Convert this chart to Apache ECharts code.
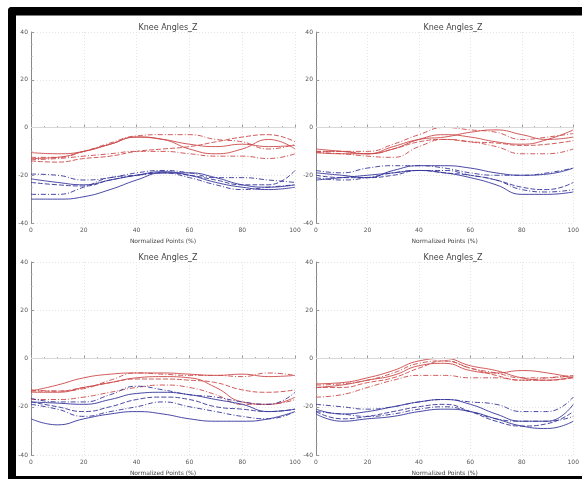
<!DOCTYPE html>
<html><head><meta charset="utf-8">
<script src="https://cdn.jsdelivr.net/npm/echarts@6/dist/echarts.min.js"></script>
<style>html,body{margin:0;padding:0;background:#fff}#c{width:582px;height:479px}</style>
</head><body><div id="c"></div>
<script>
const xPoints = [0,10,20,30,40,50,60,70,80,90,100];
const titles = ["Knee Angles_Z","Knee Angles_Z","Knee Angles_Z","Knee Angles_Z"];
const xName = "Normalized Points (%)";
const yTicks = [-40,-20,0,20,40];

const red1 = [
 [-10.5,-11,-10,-7,-4,-5,-7,-8,-7,-8,-7.5],
 [-12.5,-12.5,-10,-6.5,-3.5,-3,-3,-5,-6,-9,-7],
 [-13,-12.5,-10,-7,-4,-5,-9,-11,-9,-5,-9],
 [-14,-14.5,-13,-12,-10,-9,-8,-6,-4,-3,-6],
 [-13.5,-13,-12,-11,-10,-10,-11,-12,-12,-13,-11]
];
const blue1 = [
 [-19.5,-20,-22,-21,-19,-18,-19,-21,-21,-22,-23],
 [-21.5,-23,-24,-22,-20,-18.5,-20,-23,-25,-26,-25],
 [-23,-24,-24.5,-22,-20,-19,-20,-22,-24,-24,-18],
 [-28,-28,-25,-21,-20,-19,-21,-24,-26,-25,-24],
 [-30,-30,-29,-26,-22,-19,-19,-21,-24,-25,-24]
];
const red2 = [
 [-9,-10,-11,-9,-5,-3,-4,-6,-7,-5,-1],
 [-10,-10,-10,-7,-3,0,-1,-2,-5,-4,-2.5],
 [-10.5,-11,-11,-8,-5,-4,-2,-1,-3,-5,-4],
 [-10,-10,-11,-9,-6,-5,-6,-6.5,-7.5,-7,-5.5],
 [-10.5,-11,-12,-12.5,-8,-5,-6,-8,-11,-11,-9]
];
const blue2 = [
 [-18,-19,-17,-16,-16,-17,-19,-20,-20,-19,-17],
 [-19,-20,-21,-18,-16,-16,-17,-19,-20,-19.5,-17],
 [-20,-21,-21,-20,-18,-19,-20,-22,-25,-26,-23],
 [-21,-22,-21,-19,-18,-18,-20,-22,-26,-27,-26],
 [-22,-21,-20,-19,-18,-19,-21,-24,-28,-28,-27]
];
const red3 = [
 [-13.5,-11,-8,-6.5,-6,-6,-6.5,-7,-6.5,-7.5,-7],
 [-13,-13.5,-12.5,-9,-6,-6.5,-7,-7,-7.5,-6,-7],
 [-14,-14,-12,-10,-8,-7.5,-8,-12,-18,-19,-16],
 [-13.5,-13.5,-12,-10,-8.5,-8.5,-9,-10,-13,-14,-13],
 [-17,-17,-16,-14,-12,-11,-12,-15,-19,-19,-17]
];
const blue3 = [
 [-16.5,-18,-18,-15,-11.5,-13,-15,-16,-18,-19,-14],
 [-18,-18.5,-19,-17,-14.5,-14,-15,-17,-19,-22,-21],
 [-18,-20,-22,-20,-17,-16,-17,-20,-21,-22,-21],
 [-19,-21,-24,-22,-20,-18,-20,-22,-24,-25,-22],
 [-25,-27.5,-25,-23,-22,-23,-25,-26,-26,-25,-22]
];
const red4 = [
 [-10.5,-10,-8,-5,-1,0,-3,-5,-8,-9,-7.5],
 [-11,-10.5,-9,-6,-2,-1,-4,-6,-8,-8,-7],
 [-12,-11,-9,-7,-3,-2,-5,-6,-5,-6,-8],
 [-12,-12,-10,-8,-4,-1,-4,-7,-9,-9,-8],
 [-16,-15,-12,-9,-7,-7,-8,-8,-9,-8,-7]
];
const blue4 = [
 [-19,-20,-21,-20,-18,-17,-18,-19,-22,-22,-16],
 [-21,-23,-22,-20,-18,-17,-19,-23,-26,-26,-19],
 [-22,-25,-24,-22,-20,-19,-22,-26,-28,-27,-22],
 [-22,-23,-24,-23,-21,-20,-22,-25,-26,-26,-24],
 [-23,-26,-25,-24,-22,-21,-22,-25,-28,-29,-26]
];

const panels = [[red1,blue1],[red2,blue2],[red3,blue3],[red4,blue4]];
const gridPos = [
 {left:31, top:32, width:264, height:191},
 {left:316, top:32, width:264, height:191},
 {left:31, top:262, width:264, height:193},
 {left:316, top:262, width:264, height:193}
];
const styles = ['solid',[5,2,1,2],'solid',[5,2],[5,2,1,2]];
const chart = echarts.init(document.getElementById('c'), null, {renderer:'canvas'});
const grids=[], xAxes=[], yAxes=[], series=[], titleArr=[];
gridPos.forEach((g,i)=>{
  grids.push(Object.assign({containLabel:false}, g));
  titleArr.push({text:titles[i], left:g.left+g.width/2, top:g.top-13, textAlign:'center',
    textStyle:{fontSize:8, fontWeight:'normal', color:'#444', fontFamily:'DejaVu Sans'}});
  xAxes.push({type:'value', gridIndex:i, min:0, max:100, interval:20,
    name:xName, nameLocation:'middle', nameGap:15,
    nameTextStyle:{fontSize:6, color:'#444', fontFamily:'DejaVu Sans'},
    axisLine:{show:false}, axisTick:{inside:true, length:3, lineStyle:{color:'#999'}},
    minorTick:{show:true, splitNumber:4, length:1.5, lineStyle:{color:'#aaa'}},
    axisLabel:{fontSize:6, color:'#555', margin:4, fontFamily:'DejaVu Sans'},
    splitLine:{show:true, lineStyle:{color:'#e4e4e4', type:[1,2]}}});
  yAxes.push({type:'value', gridIndex:i, min:-40, max:40, interval:20,
    axisLine:{show:true, lineStyle:{color:'#888', width:1}},
    axisTick:{inside:true, length:3, lineStyle:{color:'#999'}},
    minorTick:{show:true, splitNumber:4, length:1.5, lineStyle:{color:'#aaa'}},
    axisLabel:{fontSize:6, color:'#555', margin:3, fontFamily:'DejaVu Sans',
      formatter:v=> yTicks.includes(v)? String(v):''},
    splitLine:{show:true, lineStyle:{color:'#e4e4e4', type:[1,2]}}});
  const [reds, blues] = panels[i];
  series.push({type:'line', xAxisIndex:i, yAxisIndex:i, data:[], silent:true,
    markLine:{symbol:'none', silent:true, label:{show:false},
      lineStyle:{color:'#d8d8d8', type:'solid', width:1}, data:[{yAxis:0}]}});
  reds.forEach((arr,k)=>series.push({type:'line', xAxisIndex:i, yAxisIndex:i, smooth:0.5,
    showSymbol:false, data:xPoints.map((x,j)=>[x,arr[j]]),
    lineStyle:{color:'#cc4848', width:1, type:styles[k], opacity:0.9}}));
  blues.forEach((arr,k)=>series.push({type:'line', xAxisIndex:i, yAxisIndex:i, smooth:0.5,
    showSymbol:false, data:xPoints.map((x,j)=>[x,arr[j]]),
    lineStyle:{color:'#34349a', width:1, type:styles[(k+1)%5], opacity:0.9}}));
});
chart.setOption({
  backgroundColor:'#fff', animation:false,
  title:titleArr, grid:grids, xAxis:xAxes, yAxis:yAxes, series:series,
  graphic:[
    {type:'rect', shape:{x:8,y:7,width:574,height:8.5,r:[4,0,0,0]}, style:{fill:'#000'}},
    {type:'rect', shape:{x:8,y:7,width:8,height:472,r:[4,0,0,0]}, style:{fill:'#000'}},
    {type:'rect', shape:{x:8,y:476,width:574,height:3}, style:{fill:'#000'}}
  ]
});
</script></body></html>
